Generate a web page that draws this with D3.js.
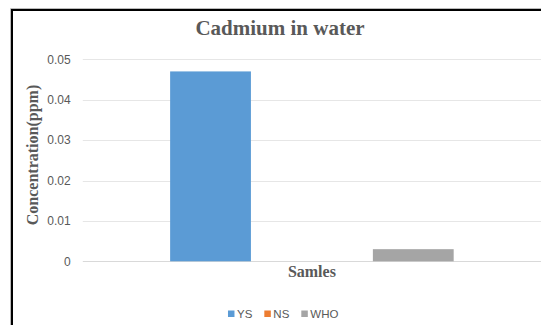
<!DOCTYPE html>
<html>
<head>
<meta charset="utf-8">
<script src="https://cdn.jsdelivr.net/npm/d3@7"></script>
<style>
  body { margin: 0; background: #fff; }
  svg { display: block; }
</style>
</head>
<body>
<svg id="chart" width="541" height="325"></svg>
<script>
var categories = ["Samles"];
var seriesNames = ["YS", "NS", "WHO"];
var seriesValues = [0.047, 0, 0.003];
var yTicks = [0, 0.01, 0.02, 0.03, 0.04, 0.05];
var colors = ["#5b9bd5", "#ed7d31", "#a5a5a5"];

var svg = d3.select("#chart");

// frame of the (cropped) chart area
svg.append("path")
    .attr("d", "M10.5,325 V8.5 H541")
    .attr("fill", "none")
    .attr("stroke", "#bbb")
    .attr("stroke-width", 1);
svg.append("path")
    .attr("d", "M12,325 V10 H541")
    .attr("fill", "none")
    .attr("stroke", "#000")
    .attr("stroke-width", 2);

var margin = { left: 82.8, right: 541, top: 59.3, bottom: 261.3 };

var yScale = d3.scaleLinear()
    .domain([0, 0.05])
    .range([margin.bottom, margin.top]);

var x0 = d3.scaleBand()
    .domain(categories)
    .range([margin.left, margin.right])
    .paddingInner(0)
    .paddingOuter(0.308);

var x1 = d3.scaleBand()
    .domain(seriesNames)
    .range([0, x0.bandwidth()])
    .paddingInner(0.203)
    .paddingOuter(0);

// gridlines
svg.append("g")
    .selectAll("line")
    .data(yTicks)
    .enter()
    .append("line")
    .attr("x1", margin.left)
    .attr("x2", margin.right)
    .attr("y1", function(d) { return Math.round(yScale(d)) + 0.5; })
    .attr("y2", function(d) { return Math.round(yScale(d)) + 0.5; })
    .attr("stroke", function(d) { return d === 0 ? "#d9d9d9" : "#e6e6e6"; })
    .attr("stroke-width", 1);

// y axis labels
var yAxis = d3.axisLeft(yScale)
    .tickValues(yTicks)
    .tickSize(0)
    .tickPadding(0)
    .tickFormat(function(d) { return d === 0 ? "0" : d3.format(".2f")(d); });

var yg = svg.append("g")
    .attr("transform", "translate(70.7,0)")
    .call(yAxis);
yg.select(".domain").remove();
yg.selectAll("text")
    .attr("fill", "#595959")
    .attr("font-family", "Liberation Sans, Arial, sans-serif")
    .attr("font-size", "12px");

// bars
var groups = svg.append("g")
    .selectAll("g")
    .data(categories)
    .enter()
    .append("g")
    .attr("transform", function(d) { return "translate(" + x0(d) + ",0)"; });

groups.selectAll("rect")
    .data(function(d, ci) {
        return seriesNames.map(function(s, i) { return { key: s, value: seriesValues[i], i: i }; });
    })
    .enter()
    .append("rect")
    .attr("x", function(d) { return x1(d.key); })
    .attr("width", x1.bandwidth())
    .attr("y", function(d) { return yScale(d.value); })
    .attr("height", function(d) { return yScale(0) - yScale(d.value); })
    .attr("fill", function(d) { return colors[d.i]; });

// titles
svg.append("text")
    .attr("x", 280)
    .attr("y", 35)
    .attr("text-anchor", "middle")
    .attr("font-family", "Liberation Serif, Times New Roman, serif")
    .attr("font-weight", "bold")
    .attr("font-size", "21px")
    .attr("fill", "#595959")
    .text("Cadmium in water");

svg.append("text")
    .attr("x", x0("Samles") + x0.bandwidth() / 2)
    .attr("y", 276.7)
    .attr("text-anchor", "middle")
    .attr("font-family", "Liberation Serif, Times New Roman, serif")
    .attr("font-weight", "bold")
    .attr("font-size", "16px")
    .attr("fill", "#595959")
    .text("Samles");

svg.append("text")
    .attr("transform", "translate(38,155) rotate(-90)")
    .attr("text-anchor", "middle")
    .attr("font-family", "Liberation Serif, Times New Roman, serif")
    .attr("font-weight", "bold")
    .attr("font-size", "16px")
    .attr("fill", "#595959")
    .text("Concentration(ppm)");

// legend
var legend = svg.append("g").attr("class", "legend");
var items = legend.selectAll(".legend-item")
    .data(seriesNames)
    .enter()
    .append("g")
    .attr("class", "legend-item");

items.append("rect")
    .attr("x", 0)
    .attr("y", 310.5)
    .attr("width", 6.5)
    .attr("height", 6.5)
    .attr("fill", function(d, i) { return colors[i]; });

items.append("text")
    .attr("x", 9)
    .attr("y", 317.5)
    .attr("font-family", "Liberation Sans, Arial, sans-serif")
    .attr("font-size", "11.5px")
    .attr("fill", "#595959")
    .text(function(d) { return d; });

var offset = 0;
var widths = [];
items.each(function() {
    widths.push(9 + this.querySelector("text").getComputedTextLength());
});
var total = d3.sum(widths) + 12 * (widths.length - 1);
var start = 283.2 - total / 2;
items.attr("transform", function(d, i) {
    var x = start + offset;
    offset += widths[i] + 12;
    return "translate(" + x + ",0)";
});
</script>
</body>
</html>
